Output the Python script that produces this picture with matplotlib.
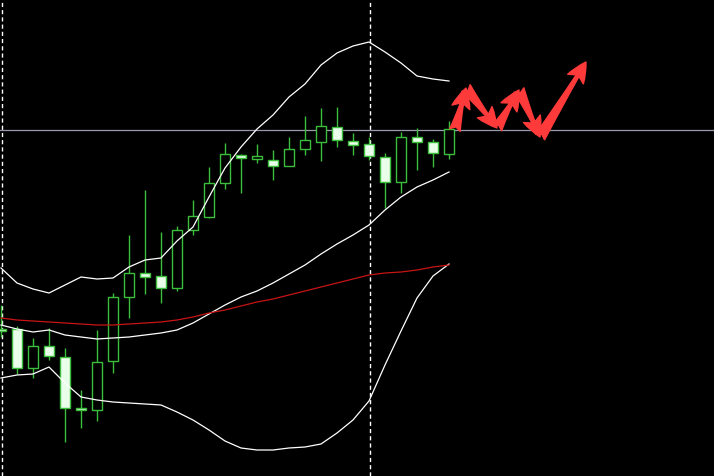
import numpy as np
import matplotlib
matplotlib.use("Agg")
import matplotlib.pyplot as plt

# candle data (price in points), one bar per index
opens = [147, 147, 108, 130, 119, 68, 66, 115, 179, 203, 200, 188, 246, 259, 293,
         321, 317, 316, 310, 327, 334, 349, 335, 332, 319, 294, 339, 334, 322]
highs = [171, 150, 138, 148, 128, 86, 146, 183, 241, 286, 244, 250, 276, 309, 333,
         322, 332, 326, 339, 360, 368, 369, 343, 339, 323, 344, 348, 337, 355]
lows = [139, 102, 98, 116, 34, 48, 55, 103, 158, 182, 173, 185, 241, 258, 287,
        283, 313, 296, 310, 321, 315, 329, 321, 316, 268, 283, 306, 309, 317]
closes = [145, 108, 130, 120, 68, 66, 114, 179, 203, 199, 188, 246, 260, 293, 322,
          318, 320, 310, 327, 336, 350, 336, 331, 320, 294, 339, 334, 323, 347]

# bollinger bands + slow moving average
bb_upper = [208, 193, 187, 183, 191, 199, 197, 198, 209, 216, 218, 235, 249, 279, 308,
            329, 347, 361, 379, 392, 411, 423, 430, 434, 424, 413, 400, 397, 395]
bb_mid = [151, 147, 144, 146, 141, 139, 137, 138, 139, 141, 143, 146, 153, 162, 171,
          179, 185, 193, 202, 211, 222, 232, 241, 251, 266, 279, 289, 296, 304]
bb_lower = [98, 101, 102, 109, 93, 79, 76, 74, 73, 72, 71, 64, 56, 46, 35,
            28, 26, 26, 28, 29, 32, 43, 56, 75, 111, 145, 178, 200, 212]
ma_slow = [158, 156, 155, 154, 153, 152, 151, 151, 152, 153, 154, 156, 159, 163, 166,
           170, 174, 177, 181, 185, 189, 193, 197, 201, 203, 204, 206, 209, 211]

price_line = 346
day_breaks = [0.06, 23.06]

# projected zigzag path (index, price)
proj_idx = [28.375, 29.06, 31.0, 32.375, 33.69, 36.56]
proj_price = [346, 388, 348, 386, 339, 414]

green = "#3cbe3c"

fig = plt.figure(figsize=(7.14, 4.76), dpi=100)
fig.patch.set_facecolor("black")
ax = fig.add_axes([0, 0, 1, 1])
ax.set_facecolor("black")
ax.set_xlim(-1 / 16, 713 / 16)
ax.set_ylim(0, 476)
ax.axis("off")

x = np.arange(len(opens))
o = np.array(opens)
c = np.array(closes)

# wicks behind bodies
ax.vlines(x, lows, highs, color=green, lw=1.0, zorder=2)
up = c >= o
body_low = np.minimum(o, c)
body_h = np.maximum(np.abs(c - o), 2)
ax.bar(x[up], body_h[up], bottom=body_low[up], width=0.64,
       facecolor="black", edgecolor=green, lw=1.0, zorder=3)
ax.bar(x[~up], body_h[~up], bottom=body_low[~up], width=0.64,
       facecolor="#eaffea", edgecolor=green, lw=1.0, zorder=3)

# bands
for band in (bb_upper, bb_mid, bb_lower):
    ax.plot(x, band, color="white", lw=0.9, zorder=4)
ax.plot(x, ma_slow, color="#c81414", lw=0.9, zorder=4)

# price level and separators
ax.axhline(price_line, color="#9a9aae", lw=0.9, zorder=1)
for d in day_breaks:
    ax.axvline(d, color="white", lw=1.0, dashes=(3, 2.2), zorder=1)

# forecast arrows
for i in range(len(proj_idx) - 1):
    ax.annotate("", xy=(proj_idx[i + 1], proj_price[i + 1]),
                xytext=(proj_idx[i], proj_price[i]),
                arrowprops=dict(arrowstyle="fancy,head_length=0.6,head_width=0.55,tail_width=0.32",
                                color="#ff3a3a", shrinkA=0, shrinkB=0,
                                mutation_scale=24),
                zorder=5)

fig.savefig("out.png", dpi=100, facecolor="black")
